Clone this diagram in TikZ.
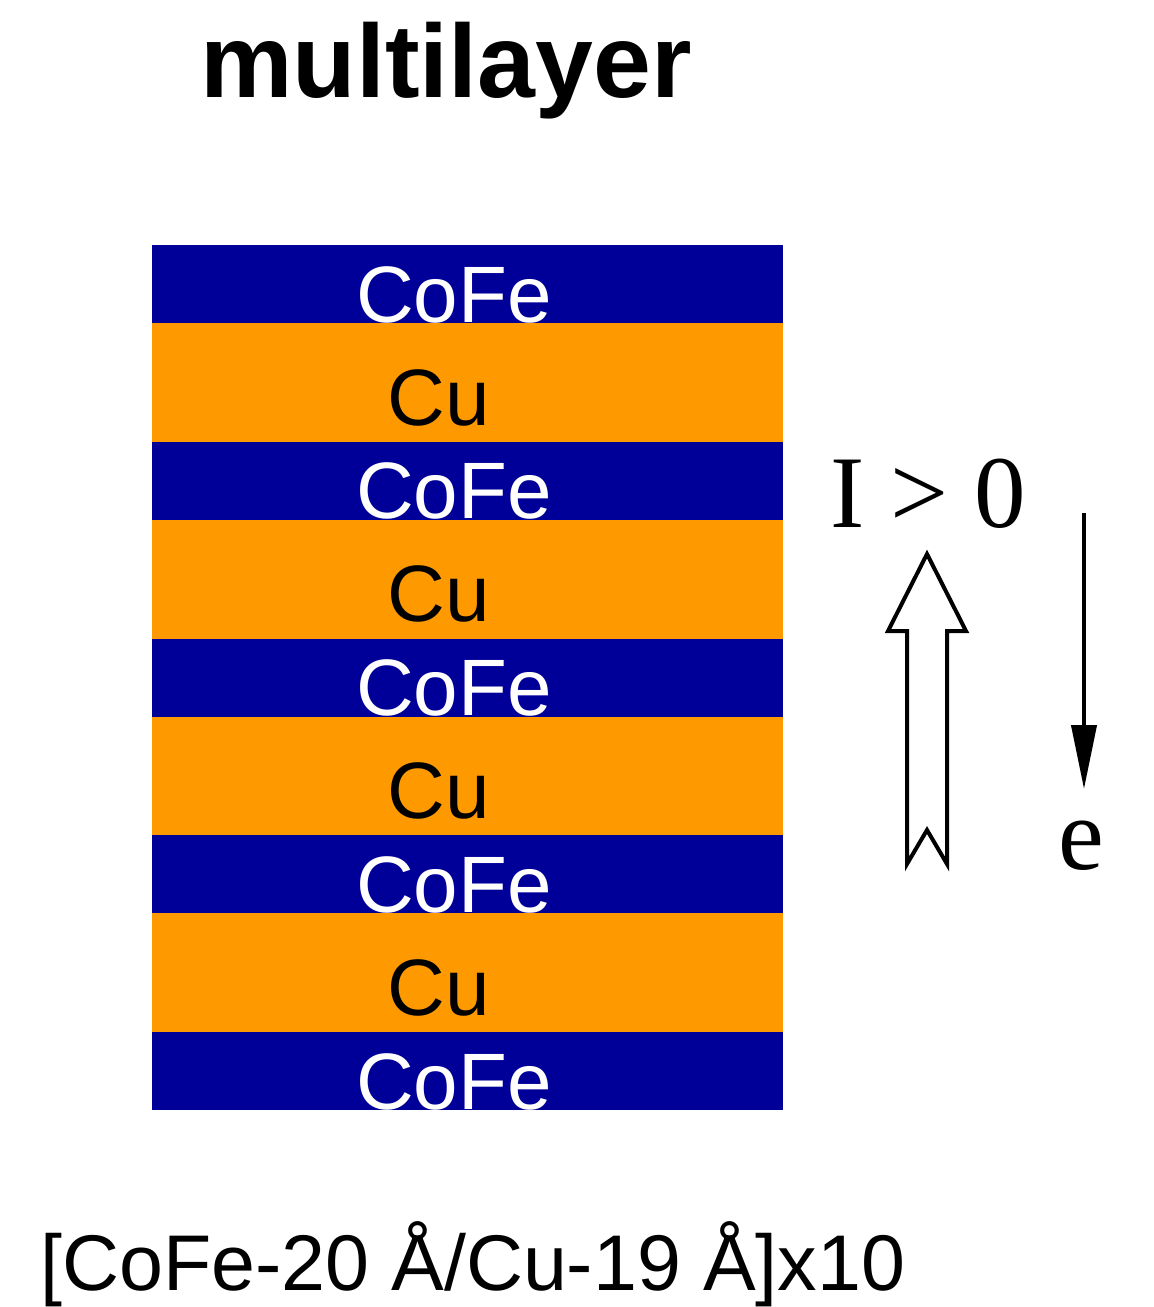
\documentclass[tikz,border=0pt]{standalone}
\usepackage{fontspec}
\setmainfont{Liberation Sans}
\newfontfamily\serifTNR{Liberation Serif}
\usetikzlibrary{arrows.meta}
\definecolor{cofeblue}{HTML}{000099}
\definecolor{cuorange}{HTML}{FF9900}
\tikzset{
  cofelayer/.style={fill=cofeblue, draw=none},
  culayer/.style={fill=cuorange, draw=none},
  cofetext/.style={anchor=base, inner sep=0pt, text=white, font=\fontsize{80}{80}\selectfont},
  cutext/.style={anchor=base, inner sep=0pt, text=black, font=\fontsize{80}{80}\selectfont},
  seriftext/.style={inner sep=0pt, font=\serifTNR\fontsize{103}{103}\selectfont},
  hollowarrow/.style={draw=black, line width=4pt, fill=white, line join=miter},
  thinarrow/.style={draw=black, line width=4pt, -{Triangle[length=64pt,width=25pt]}},
}
\begin{document}
\begin{tikzpicture}[x=1pt,y=-1pt]
\useasboundingbox[fill=white] (0,0) rectangle (1154,1307);
% title
\node[anchor=base west, inner sep=0pt, font=\bfseries\fontsize{104}{104}\selectfont] (title) at (200,97) {multilayer};
% layers
\foreach \k in {0,...,4}{
  \pgfmathsetmacro{\T}{245+196.75*\k}
  \fill[cofelayer] (152,\T) rectangle (783,\T+78);
  \node[cofetext] (cofe\k) at (454,\T+77) {CoFe};
}
\foreach \k in {0,...,3}{
  \pgfmathsetmacro{\T}{323+196.75*\k}
  \fill[culayer] (152,\T) rectangle (783,\T+118.75);
  \node[cutext] (cu\k) at (439,\T+102) {Cu};
}
% labels
\node[seriftext, anchor=base west] (Ilabel) at (830,527) {I > 0};
\node[seriftext, anchor=base] (elabel) at (1081,869) {e};
% hollow arrow (current)
\draw[hollowarrow] (927,554) -- (966,631) -- (947,631) -- (947,864) -- (927,830) -- (907,864) -- (907,631) -- (888,631) -- cycle;
% electron arrow
\coordinate (etop) at (1084,513);
\coordinate (ebot) at (1084,789);
\draw[thinarrow] (etop) -- (ebot);
% bottom formula
\node[anchor=base west, inner sep=0pt, font=\fontsize{79}{79}\selectfont] (formula) at (40,1290) {[CoFe-20 Å/Cu-19 Å]x10};
\end{tikzpicture}
\end{document}
